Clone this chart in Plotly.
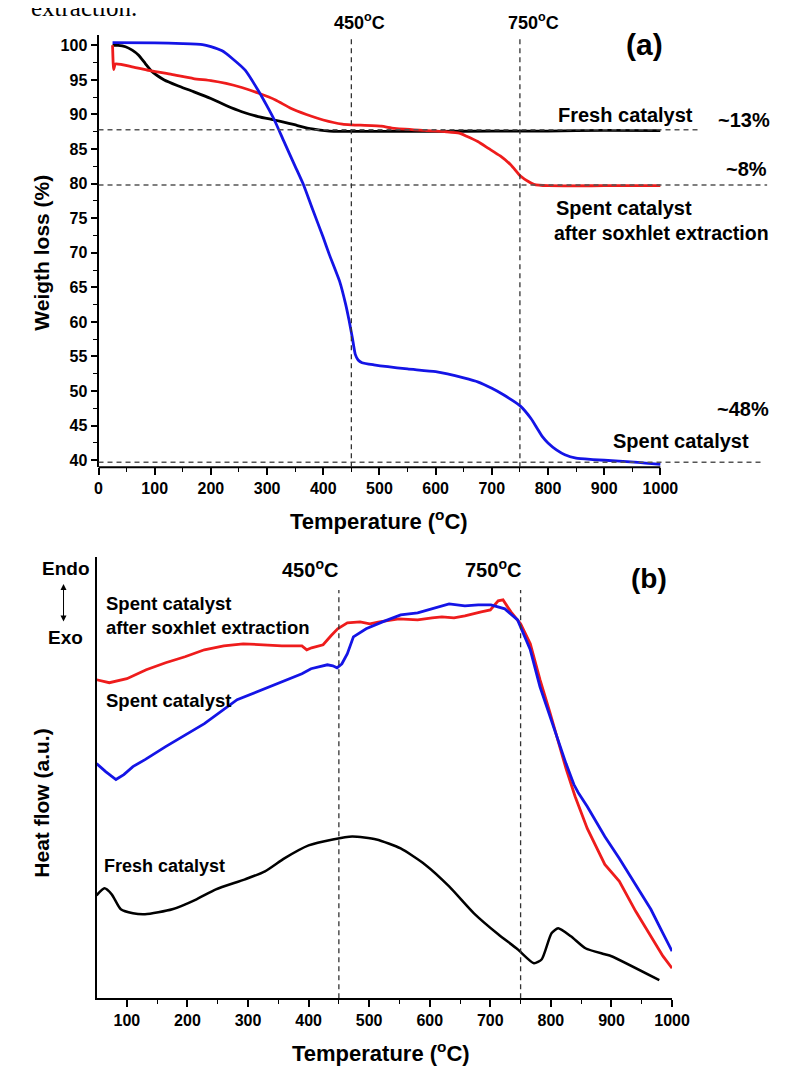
import plotly.graph_objects as go

W, H = 788, 1066

# ---------------- Panel (a): TGA weight loss ----------------
t_fresh_a = [25, 35, 48, 60, 71, 83, 94, 105, 117, 140, 169, 200, 227, 255, 284, 313, 335, 354, 380, 411, 430, 450, 500, 600, 700, 800, 900, 1000]
w_fresh_a = [100.0, 100.0, 99.8, 99.3, 98.6, 97.4, 96.3, 95.6, 95.0, 94.2, 93.3, 92.3, 91.3, 90.4, 89.7, 89.2, 88.8, 88.4, 87.9, 87.6, 87.55, 87.55, 87.55, 87.55, 87.6, 87.6, 87.7, 87.65]

t_soxhlet_a = [25, 27, 30, 60, 94, 130, 169, 200, 227, 255, 284, 315, 342, 370, 400, 434, 451, 503, 526, 580, 619, 642, 654, 675, 694, 715, 734, 751, 765, 775, 800, 900, 1000]
w_soxhlet_a = [100.0, 96.5, 97.3, 96.9, 96.3, 95.8, 95.2, 94.9, 94.5, 93.9, 93.1, 92.1, 90.9, 90.0, 89.2, 88.6, 88.5, 88.3, 88.0, 87.7, 87.5, 87.3, 86.9, 86.1, 85.1, 84.0, 82.7, 81.1, 80.3, 79.9, 79.7, 79.7, 79.7]

t_spent_a = [25, 100, 150, 185, 200, 220, 238, 261, 284, 300, 313, 330, 350, 365, 380, 400, 411, 429, 440, 446, 452, 457, 462, 469, 490, 550, 600, 650, 676, 700, 720, 750, 770, 780, 790, 800, 815, 830, 850, 880, 920, 960, 1000]
w_spent_a = [100.4, 100.35, 100.25, 100.1, 99.8, 99.2, 98.1, 96.4, 93.5, 91.2, 89.2, 86.1, 82.5, 79.8, 76.5, 72.2, 69.7, 65.9, 62.5, 60.2, 57.6, 55.3, 54.5, 54.1, 53.8, 53.2, 52.8, 51.9, 51.3, 50.4, 49.5, 47.9, 46.0, 44.7, 43.4, 42.5, 41.5, 40.8, 40.3, 40.1, 39.9, 39.7, 39.4]

ref_levels_a = [87.8, 79.8, 39.7]
ref_ends_a = [1071, 1190, 1183]
marker_temps = [450, 750]

y_ticks_a = list(range(40, 101, 5))
x_ticks_a = list(range(0, 1001, 100))

# ---------------- Panel (b): DSC heat flow (a.u.) ----------------
t_soxhlet_b = [50, 71, 100, 132, 164, 196, 228, 260, 292, 324, 356, 389, 397, 405, 416, 424, 437, 448, 464, 485, 501, 517, 549, 580, 604, 620, 640, 658, 685, 700, 713, 721, 734, 750, 766, 782, 798, 809, 825, 840, 860, 889, 913, 940, 965, 985, 1000]
h_soxhlet_b = [319, 316, 320, 329, 336, 342, 349, 353, 355, 354, 353, 353, 349, 351, 353, 354, 363, 370, 376, 377, 375, 377, 380, 379, 381, 382, 381, 383, 387, 389, 398, 399, 387, 375, 355, 319, 287, 264, 230, 202, 170, 134, 117, 87, 62, 42, 30]

t_spent_b = [50, 65, 82, 95, 110, 130, 164, 228, 282, 335, 389, 404, 431, 440, 447, 455, 464, 474, 495, 522, 552, 580, 604, 632, 658, 680, 701, 713, 724, 745, 766, 782, 804, 825, 838, 845, 860, 889, 913, 940, 965, 985, 1000]
h_spent_b = [235, 227, 219, 224, 232, 239, 252, 275, 299, 312, 325, 330, 334, 333, 331, 335, 345, 362, 370, 377, 384, 386, 390, 395, 393, 394, 394, 392, 390, 379, 349, 312, 272, 235, 214, 206, 192, 162, 140, 114, 89, 65, 47]

t_fresh_b = [50, 63, 75, 90, 110, 130, 175, 215, 247, 295, 328, 360, 400, 440, 472, 512, 552, 592, 632, 673, 713, 745, 772, 785, 801, 812, 833, 857, 889, 900, 979]
h_fresh_b = [103, 110, 104, 89, 85, 84, 89, 99, 109, 119, 127, 140, 153, 159, 162, 159, 150, 134, 112, 85, 64, 49, 35, 39, 65, 70, 62, 50, 44, 42, 18]

x_ticks_b = list(range(100, 1001, 100))

RED = "#ee1c1c"
BLUE = "#1414e6"
BLACK = "#000000"

NARROW = "Liberation Sans Narrow, Arial Narrow, Liberation Sans, Arial, sans-serif"
SANS = "Liberation Sans, Arial, sans-serif"

fig = go.Figure()

# panel (a) traces
fig.add_trace(go.Scatter(x=t_fresh_a, y=w_fresh_a, mode="lines", line=dict(color=BLACK, width=2.8, shape="spline", smoothing=0.6), xaxis="x", yaxis="y", showlegend=False))
fig.add_trace(go.Scatter(x=t_soxhlet_a, y=w_soxhlet_a, mode="lines", line=dict(color=RED, width=2.8, shape="spline", smoothing=0.5), xaxis="x", yaxis="y", showlegend=False))
fig.add_trace(go.Scatter(x=t_spent_a, y=w_spent_a, mode="lines", line=dict(color=BLUE, width=2.8, shape="spline", smoothing=0.5), xaxis="x", yaxis="y", showlegend=False))

# panel (b) traces
fig.add_trace(go.Scatter(x=t_soxhlet_b, y=h_soxhlet_b, mode="lines", line=dict(color=RED, width=2.8), xaxis="x2", yaxis="y2", showlegend=False))
fig.add_trace(go.Scatter(x=t_spent_b, y=h_spent_b, mode="lines", line=dict(color=BLUE, width=2.8), xaxis="x2", yaxis="y2", showlegend=False))
fig.add_trace(go.Scatter(x=t_fresh_b, y=h_fresh_b, mode="lines", line=dict(color=BLACK, width=2.5, shape="spline", smoothing=0.6), xaxis="x2", yaxis="y2", showlegend=False))


def px(x):
    return x / W


def py(y):
    return 1 - y / H


ya_lo, ya_hi = 39.0, 101.5
ya_dom = [py(460), py(27)]
xa_dom = [px(89), px(785)]
xa_range = [0, (785 - 89) / 0.578]

yb_dom = [py(992), py(550)]
xb_dom = [px(87), px(679)]

shapes = []
# panel (a) bottom axis line only up to 1000
shapes.append(dict(type="line", xref="x", yref="paper", x0=0, x1=1000, y0=ya_dom[0], y1=ya_dom[0], line=dict(color="black", width=2)))
for lvl, xe in zip(ref_levels_a, ref_ends_a):
    shapes.append(dict(type="line", xref="x", yref="y", x0=0, x1=xe, y0=lvl, y1=lvl, line=dict(color="#555555", width=1.4, dash="5px,4px")))
for t in marker_temps:
    shapes.append(dict(type="line", xref="x", yref="y", x0=t, x1=t, y0=ya_lo, y1=101.4, line=dict(color="#333333", width=1.3, dash="5px,4px")))
    shapes.append(dict(type="line", xref="x2", yref="y2", x0=t, x1=t, y0=0, y1=409, line=dict(color="#333333", width=1.3, dash="5px,4px")))

ann = []


def text(s, x, y, size=16, family=SANS, xanchor="center", angle=0, color="black"):
    ann.append(dict(text=s, x=px(x), y=py(y), xref="paper", yref="paper", showarrow=False,
                    xanchor=xanchor, yanchor="middle", textangle=angle,
                    font=dict(size=size, family=family, color=color)))


# caption fragment at very top (partly cut by the page edge, as in the source)
ann.append(dict(text="extraction.", x=px(18), y=py(15), xref="paper", yref="paper", showarrow=False,
                xanchor="left", yanchor="bottom", font=dict(size=25, family="Liberation Serif, DejaVu Serif, serif", color="black")))

# panel (a) texts
text("<b>450<sup>o</sup>C</b>", 357, 14, 18, NARROW)
text("<b>750<sup>o</sup>C</b>", 536, 14, 18, NARROW)
text("<b>(a)</b>", 651, 37, 30, SANS)
text("<b>Fresh catalyst</b>", 631, 107, 20, NARROW)
text("<b>~13%</b>", 753, 112, 20, NARROW)
text("<b>~8%</b>", 756, 161, 20, NARROW)
text("<b>Spent catalyst</b>", 558, 200, 20, NARROW, xanchor="left")
text("<b>after soxhlet extraction</b>", 556, 225, 19.5, NARROW, xanchor="left")
text("<b>~48%</b>", 752, 402, 20, NARROW)
text("<b>Spent catalyst</b>", 688, 434, 20, NARROW)
text("<b>Temperature (<sup>o</sup>C)</b>", 378, 513, 22, NARROW)
text("<b>Weigth loss (%)</b>", 30, 245, 21, SANS, angle=-90)

# panel (b) texts
text("<b>Endo</b>", 56, 562, 19, SANS)
text("<b>Exo</b>", 55, 631, 19, SANS)
ann.append(dict(text="", x=px(53), y=py(577), xref="paper", yref="paper", ax=0, ay=39,
                showarrow=True, arrowhead=2, arrowside="end+start", arrowsize=1.2, arrowwidth=1, arrowcolor="black"))
text("<b>450<sup>o</sup>C</b>", 307, 562, 20, SANS)
text("<b>750<sup>o</sup>C</b>", 495, 562, 20, SANS)
text("<b>(b)</b>", 655, 572, 28, SANS)
text("<b>Spent catalyst</b>", 95, 597, 18.5, SANS, xanchor="left")
text("<b>after soxhlet extraction</b>", 95, 621, 18.5, SANS, xanchor="left")
text("<b>Spent catalyst</b>", 95, 694, 18.5, SANS, xanchor="left")
text("<b>Fresh catalyst</b>", 93, 860, 18, NARROW, xanchor="left")
text("<b>Heat flow (a.u.)</b>", 30, 797, 21, SANS, angle=-90)
text("<b>Temperature (<sup>o</sup>C)</b>", 380, 1046, 22, NARROW)

tickfont = dict(size=16, family=NARROW, color="black")

fig.update_layout(
    width=W, height=H,
    margin=dict(l=0, r=0, t=0, b=0),
    paper_bgcolor="white", plot_bgcolor="white",
    showlegend=False,
    shapes=shapes,
    annotations=ann,
    xaxis=dict(domain=xa_dom, range=xa_range, anchor="y", showline=False, showgrid=False, zeroline=False,
               tickmode="array", tickvals=x_ticks_a, ticktext=[f"<b>{v}</b>" for v in x_ticks_a],
               ticks="outside", ticklen=7, tickwidth=1.5, tickcolor="black", tickfont=tickfont,
               minor=dict(tickmode="array", tickvals=[v + 50 for v in x_ticks_a[:-1]], ticks="outside", ticklen=4, tickwidth=1.3, tickcolor="black")),
    yaxis=dict(domain=ya_dom, range=[ya_lo, ya_hi], anchor="x", showline=True, linecolor="black", linewidth=2,
               showgrid=False, zeroline=False,
               tickmode="array", tickvals=y_ticks_a, ticktext=[f"<b>{v}</b>" for v in y_ticks_a],
               ticks="outside", ticklen=6, tickwidth=1.5, tickcolor="black", tickfont=tickfont,
               minor=dict(tickmode="array", tickvals=[v + 2.5 for v in y_ticks_a[:-1]], ticks="outside", ticklen=4, tickwidth=1.3, tickcolor="black")),
    xaxis2=dict(domain=xb_dom, range=[50, 1000], anchor="y2", showline=True, linecolor="black", linewidth=2,
                showgrid=False, zeroline=False,
                tickmode="array", tickvals=x_ticks_b, ticktext=[f"<b>{v}</b>" for v in x_ticks_b],
                ticks="outside", ticklen=7, tickwidth=1.5, tickcolor="black", tickfont=tickfont,
                minor=dict(tickmode="array", tickvals=[v + 50 for v in x_ticks_b[:-1]], ticks="outside", ticklen=4, tickwidth=1.3, tickcolor="black")),
    yaxis2=dict(domain=yb_dom, range=[0, 442], anchor="x2", showline=True, linecolor="black", linewidth=2,
                showgrid=False, zeroline=False, showticklabels=False, ticks=""),
)

fig.write_html("out.html")
